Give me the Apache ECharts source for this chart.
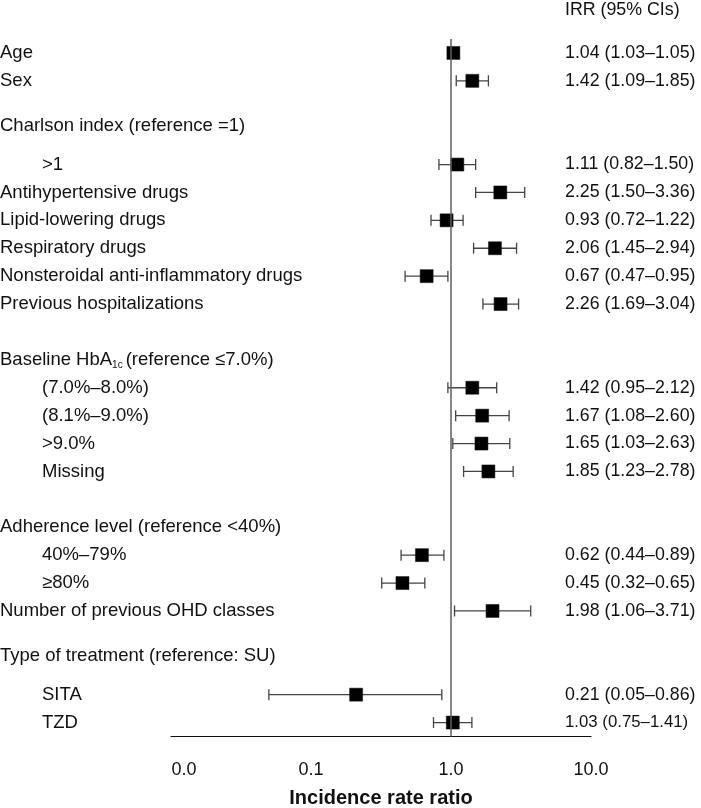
<!DOCTYPE html>
<html><head><meta charset="utf-8">
<script src="https://cdn.jsdelivr.net/npm/echarts@6/dist/echarts.min.js"></script>
<style>html,body{margin:0;padding:0;background:#fff}#c{width:701px;height:808px}</style>
</head><body><div id="c"></div>
<script>
// ---- data ----
const rowLabels = ['Age','Sex','','Charlson index (reference =1)','>1','Antihypertensive drugs','Lipid-lowering drugs','Respiratory drugs','Nonsteroidal anti-inflammatory drugs','Previous hospitalizations','','Baseline HbA1c (reference ≤7.0%)','(7.0%–8.0%)','(8.1%–9.0%)','>9.0%','Missing','','Adherence level (reference <40%)','40%–79%','≥80%','Number of previous OHD classes','','Type of treatment (reference: SU)','SITA','TZD'];
const rowKind = ['item','item','blank','head','sub','item','item','item','item','item','blank','head','sub','sub','sub','sub','blank','head','sub','sub','item','blank','head','sub','sub'];
const irr    = [1.04,1.42,null,null,1.11,2.25,0.93,2.06,0.67,2.26,null,null,1.42,1.67,1.65,1.85,null,null,0.62,0.45,1.98,null,null,0.21,1.03];
const ciLow  = [1.03,1.09,null,null,0.82,1.50,0.72,1.45,0.47,1.69,null,null,0.95,1.08,1.03,1.23,null,null,0.44,0.32,1.06,null,null,0.05,0.75];
const ciHigh = [1.05,1.85,null,null,1.50,3.36,1.22,2.94,0.95,3.04,null,null,2.12,2.60,2.63,2.78,null,null,0.89,0.65,3.71,null,null,0.86,1.41];
const xMin = 0.01, xMax = 10;
const columnTitle = 'IRR (95% CIs)';
const xTitle = 'Incidence rate ratio';

// ---- derived ----
const irrLabels = irr.map((v,i) => v == null ? '' :
  v.toFixed(2) + ' (' + ciLow[i].toFixed(2) + '–' + ciHigh[i].toFixed(2) + ')');
const pointData = [], barData = [];
irr.forEach((v,i) => { if (v != null) { pointData.push([v, i]); barData.push([ciLow[i], ciHigh[i], i]); } });

const FF = '"Liberation Sans", Arial, sans-serif';
const TXT = '#111';
const LFS = 18.5, RFS = 17.8;
const liftedHeads = new Set([3, 22]);

const chart = echarts.init(document.getElementById('c'), null, {renderer:'canvas'});
chart.setOption({
  animation: false,
  backgroundColor: '#fff',
  title: {
    text: columnTitle, left: 565, top: 1, padding: 0,
    textStyle: {fontFamily: FF, fontSize: RFS, fontWeight: 'normal', color: TXT}
  },
  grid: {left: 171, right: 110, top: 39, bottom: 71.5, containLabel: false, outerBoundsMode: 'none'},
  xAxis: {
    type: 'log', logBase: 10, min: xMin, max: xMax,
    name: xTitle, nameLocation: 'middle', nameGap: 52,
    nameTextStyle: {fontFamily: FF, fontSize: 20, fontWeight: 'bold', color: TXT},
    axisLine: {show: true, onZero: false, lineStyle: {color: '#111', width: 1.2}},
    axisTick: {show: false}, splitLine: {show: false},
    axisLabel: {
      margin: 25, fontFamily: FF, fontSize: 18, color: TXT,
      formatter: (v, i) => i === 0 ? '{f|' + v.toFixed(1) + '}' : v.toFixed(1),
      rich: {f: {fontFamily: FF, fontSize: 18, color: TXT, padding: [0,0,0,26]}}
    }
  },
  yAxis: [{
    type: 'category', data: rowLabels, inverse: true,
    axisLine: {show: false}, axisTick: {show: false}, splitLine: {show: false},
    axisLabel: {
      interval: 0, align: 'left', margin: 171, fontFamily: FF, fontSize: LFS, color: TXT,
      formatter: (v, i) => {
        if (!v) return '';
        const k = rowKind[i];
        if (k === 'sub') return '{sub|' + v + '}';
        if (k === 'head') {
          let t = '{h|' + v.replace('HbA1c ', 'HbA}{s|1c}{h|') + '}';
          if (liftedHeads.has(i)) t += '\n{h| }';
          return t;
        }
        return '{it|' + v + '}';
      },
      rich: {
        it: {fontFamily: FF, fontSize: LFS, color: TXT, lineHeight: 21},
        h: {fontFamily: FF, fontSize: LFS, color: TXT, lineHeight: 21},
        sub: {fontFamily: FF, fontSize: LFS, color: TXT, lineHeight: 21, padding: [0,0,0,42]},
        s: {fontFamily: FF, fontSize: 10, color: TXT, lineHeight: 7, verticalAlign: 'bottom', padding: [0,3,0,0]}
      }
    }
  }, {
    type: 'category', data: irrLabels, inverse: true, position: 'right',
    axisLine: {show: false}, axisTick: {show: false}, splitLine: {show: false},
    axisLabel: {
      interval: 0, align: 'left', margin: -26, fontFamily: FF, fontSize: RFS, color: TXT,
      formatter: (v, i) => i === rowLabels.length - 1 ? '{sm|' + v + '}' : v,
      rich: {sm: {fontFamily: FF, fontSize: 16.8, color: TXT}}
    }
  }],
  series: [{
    type: 'custom', yAxisIndex: 0, z: 2,
    encode: {x: [0, 1], y: 2},
    data: barData,
    renderItem: (params, api) => {
      const a = api.coord([api.value(0), api.value(2)]);
      const b = api.coord([api.value(1), api.value(2)]);
      const h = 5.5;
      const st = {stroke: '#444', lineWidth: 1.3};
      return {type: 'group', children: [
        {type: 'line', shape: {x1: a[0], y1: a[1], x2: b[0], y2: b[1]}, style: st},
        {type: 'line', shape: {x1: a[0], y1: a[1]-h, x2: a[0], y2: a[1]+h}, style: st},
        {type: 'line', shape: {x1: b[0], y1: b[1]-h, x2: b[0], y2: b[1]+h}, style: st}
      ]};
    }
  }, {
    type: 'scatter', yAxisIndex: 0, z: 3,
    data: pointData, symbol: 'rect', symbolSize: 13,
    itemStyle: {color: '#000', opacity: 1, borderColor: '#111', borderWidth: 0.5},
    markLine: {
      silent: true, symbol: 'none', label: {show: false},
      lineStyle: {color: '#5e5e5e', width: 1.5, type: 'solid', opacity: 1},
      data: [{xAxis: 1}]
    }
  }]
});
</script></body></html>
